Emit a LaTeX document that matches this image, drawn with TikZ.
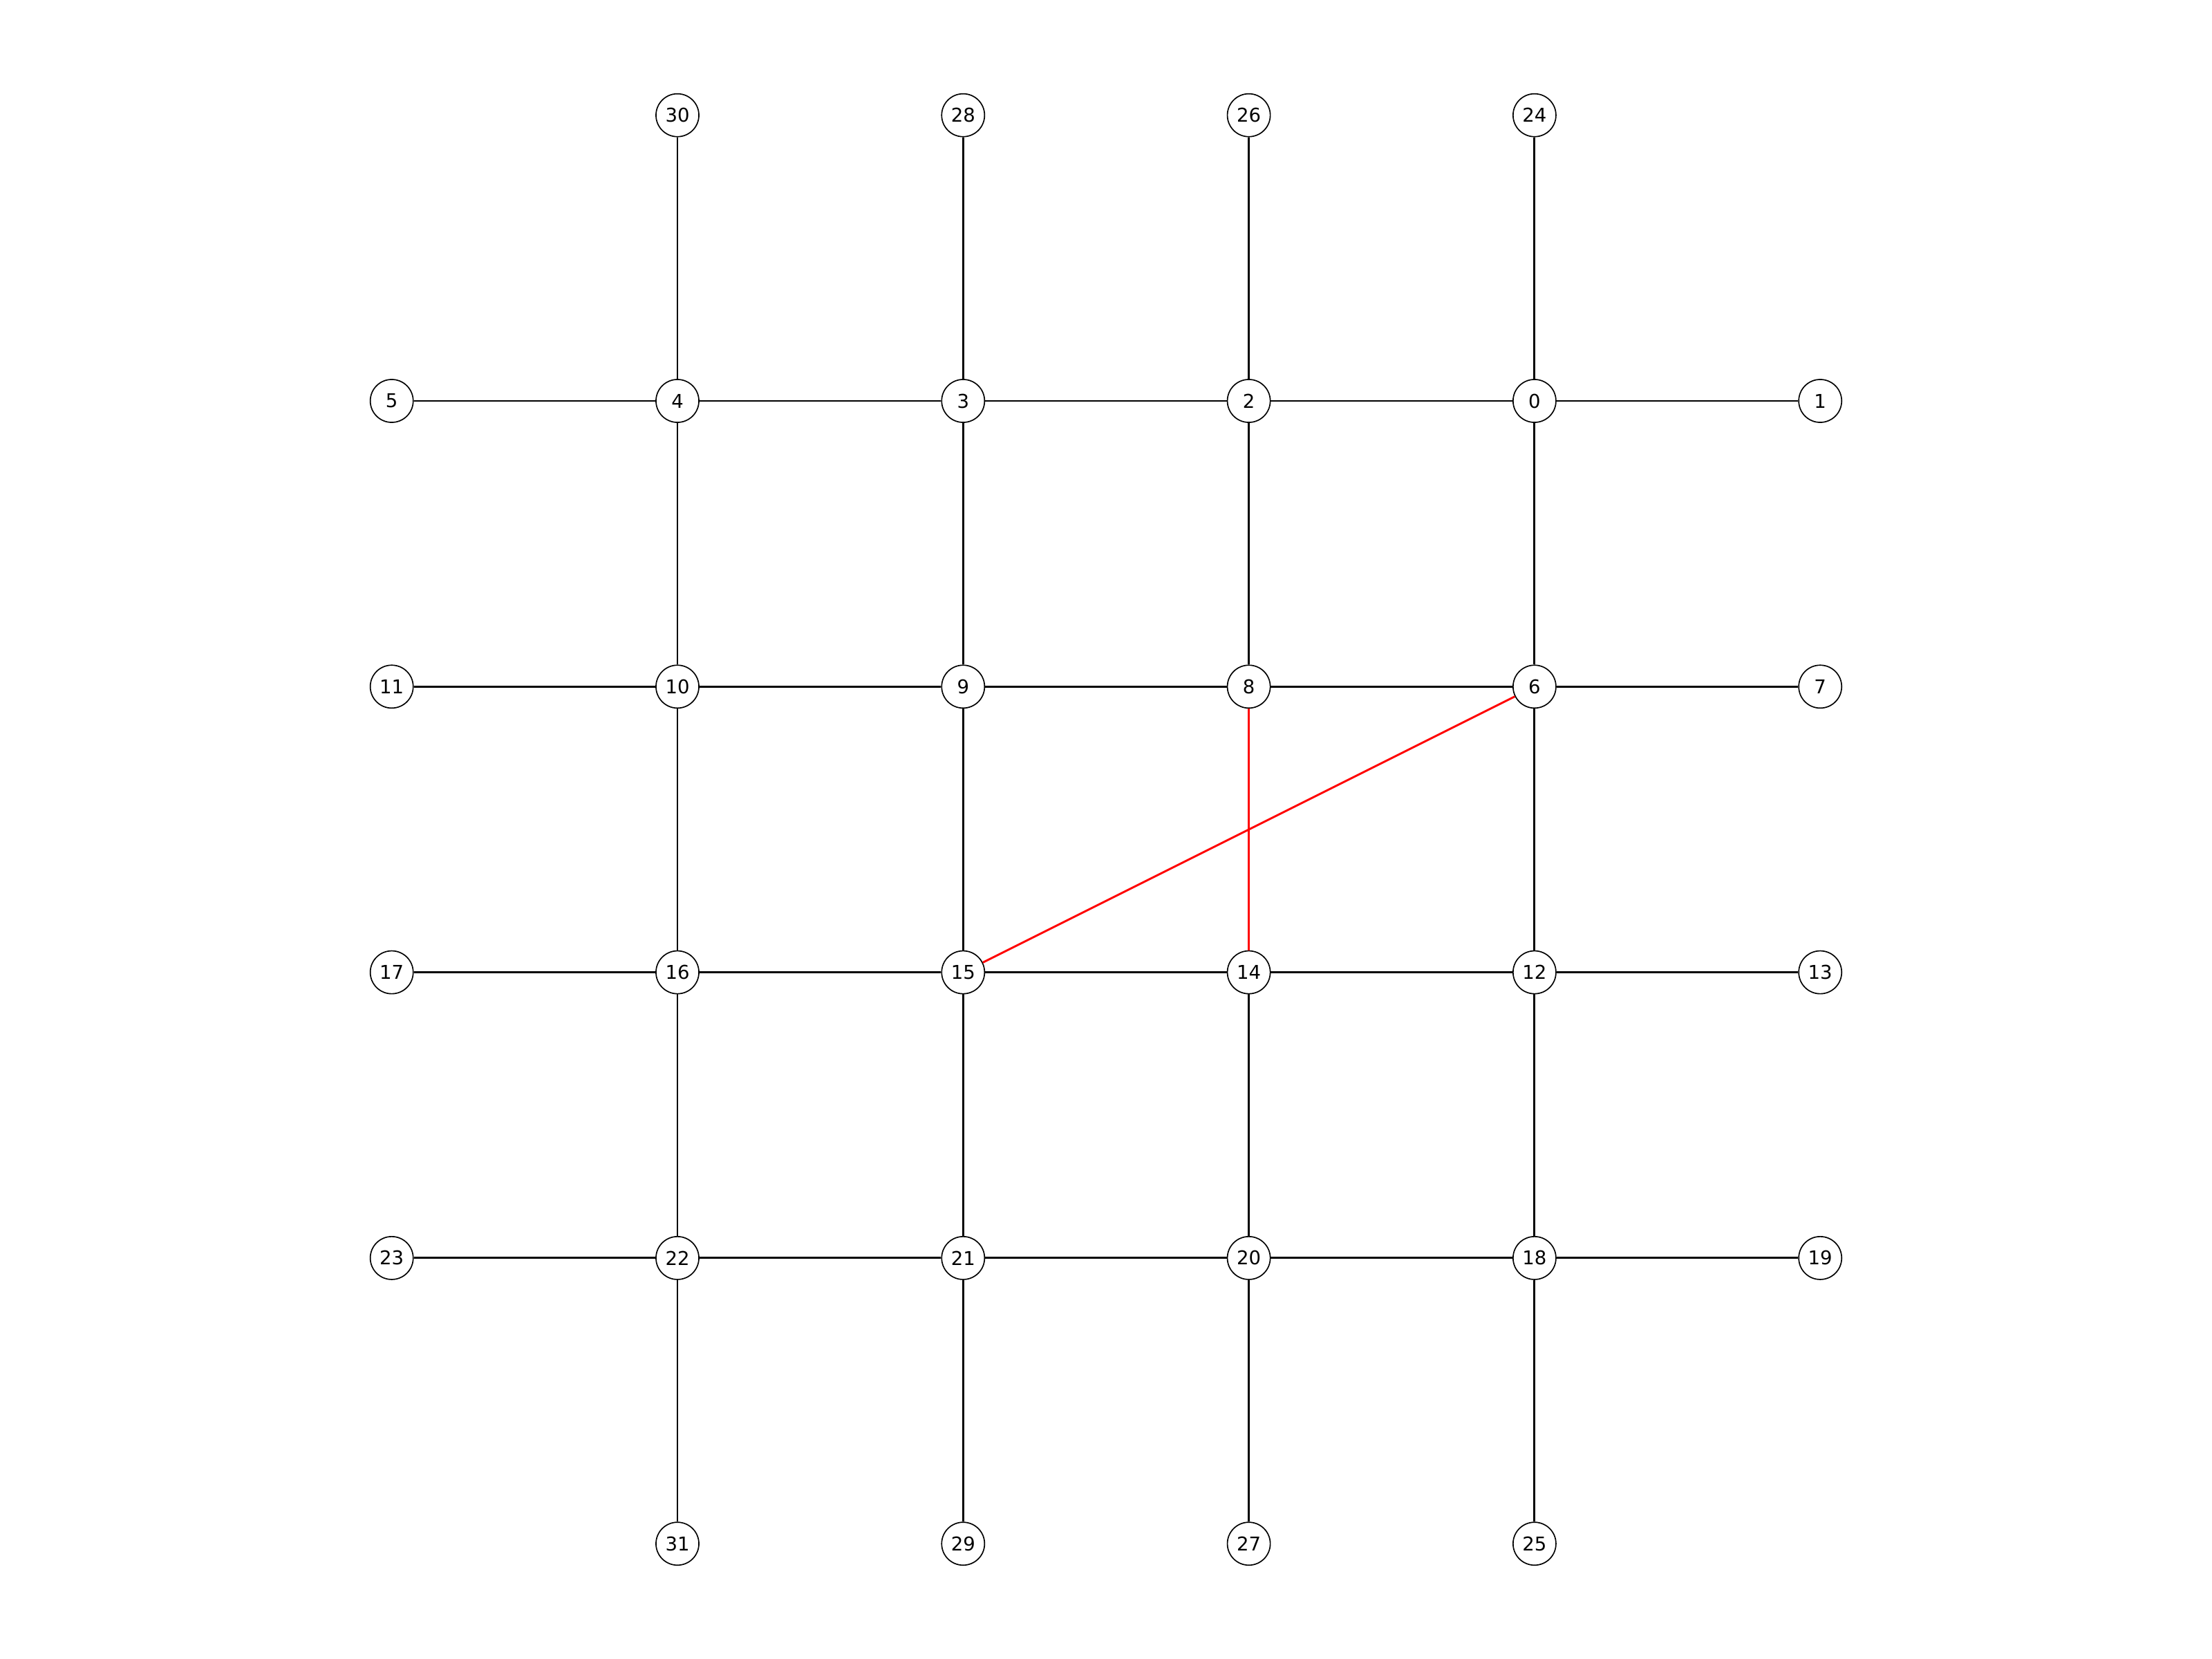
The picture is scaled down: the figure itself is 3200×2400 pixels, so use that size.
\documentclass[tikz,border=0pt]{standalone}
\usepackage{fontspec}
\setmainfont{DejaVu Sans}
\begin{document}
\begin{tikzpicture}[x=0.24pt,y=-0.24pt,
  vtx/.style={circle,draw=black,line width=0.4pt,fill=white,minimum size=14.9pt,inner sep=0pt,font=\fontsize{6.6}{7}\selectfont},
  edge/.style={line width=0.7pt,black},
  redge/.style={line width=0.7pt,red}]
\useasboundingbox (0,0) rectangle (3200,2400);
\def\cx#1{566.7+413.3*#1}
\def\ry#1{166.7+413.3*#1}
% row 0
\node[vtx] (n30) at ({\cx{1}},{\ry{0}}) {30};
\node[vtx] (n28) at ({\cx{2}},{\ry{0}}) {28};
\node[vtx] (n26) at ({\cx{3}},{\ry{0}}) {26};
\node[vtx] (n24) at ({\cx{4}},{\ry{0}}) {24};
% row 1
\node[vtx] (n5) at ({\cx{0}},{\ry{1}}) {5};
\node[vtx] (n4) at ({\cx{1}},{\ry{1}}) {4};
\node[vtx] (n3) at ({\cx{2}},{\ry{1}}) {3};
\node[vtx] (n2) at ({\cx{3}},{\ry{1}}) {2};
\node[vtx] (n0) at ({\cx{4}},{\ry{1}}) {0};
\node[vtx] (n1) at ({\cx{5}},{\ry{1}}) {1};
% row 2
\node[vtx] (n11) at ({\cx{0}},{\ry{2}}) {11};
\node[vtx] (n10) at ({\cx{1}},{\ry{2}}) {10};
\node[vtx] (n9) at ({\cx{2}},{\ry{2}}) {9};
\node[vtx] (n8) at ({\cx{3}},{\ry{2}}) {8};
\node[vtx] (n6) at ({\cx{4}},{\ry{2}}) {6};
\node[vtx] (n7) at ({\cx{5}},{\ry{2}}) {7};
% row 3
\node[vtx] (n17) at ({\cx{0}},{\ry{3}}) {17};
\node[vtx] (n16) at ({\cx{1}},{\ry{3}}) {16};
\node[vtx] (n15) at ({\cx{2}},{\ry{3}}) {15};
\node[vtx] (n14) at ({\cx{3}},{\ry{3}}) {14};
\node[vtx] (n12) at ({\cx{4}},{\ry{3}}) {12};
\node[vtx] (n13) at ({\cx{5}},{\ry{3}}) {13};
% row 4
\node[vtx] (n23) at ({\cx{0}},{\ry{4}}) {23};
\node[vtx] (n22) at ({\cx{1}},{\ry{4}}) {22};
\node[vtx] (n21) at ({\cx{2}},{\ry{4}}) {21};
\node[vtx] (n20) at ({\cx{3}},{\ry{4}}) {20};
\node[vtx] (n18) at ({\cx{4}},{\ry{4}}) {18};
\node[vtx] (n19) at ({\cx{5}},{\ry{4}}) {19};
% row 5
\node[vtx] (n31) at ({\cx{1}},{\ry{5}}) {31};
\node[vtx] (n29) at ({\cx{2}},{\ry{5}}) {29};
\node[vtx] (n27) at ({\cx{3}},{\ry{5}}) {27};
\node[vtx] (n25) at ({\cx{4}},{\ry{5}}) {25};
% horizontal edges
\draw[edge] (n5)--(n4) (n4)--(n3) (n3)--(n2) (n2)--(n0) (n0)--(n1);
\draw[edge] (n11)--(n10) (n10)--(n9) (n9)--(n8) (n8)--(n6) (n6)--(n7);
\draw[edge] (n17)--(n16) (n16)--(n15) (n15)--(n14) (n14)--(n12) (n12)--(n13);
\draw[edge] (n23)--(n22) (n22)--(n21) (n21)--(n20) (n20)--(n18) (n18)--(n19);
% vertical edges
\draw[edge] (n30)--(n4) (n4)--(n10) (n10)--(n16) (n16)--(n22) (n22)--(n31);
\draw[edge] (n28)--(n3) (n3)--(n9) (n9)--(n15) (n15)--(n21) (n21)--(n29);
\draw[edge] (n26)--(n2) (n2)--(n8) (n14)--(n20) (n20)--(n27);
\draw[edge] (n24)--(n0) (n0)--(n6) (n6)--(n12) (n12)--(n18) (n18)--(n25);
% red edges
\draw[redge] (n8)--(n14);
\draw[redge] (n6)--(n15);
\end{tikzpicture}
\end{document}
